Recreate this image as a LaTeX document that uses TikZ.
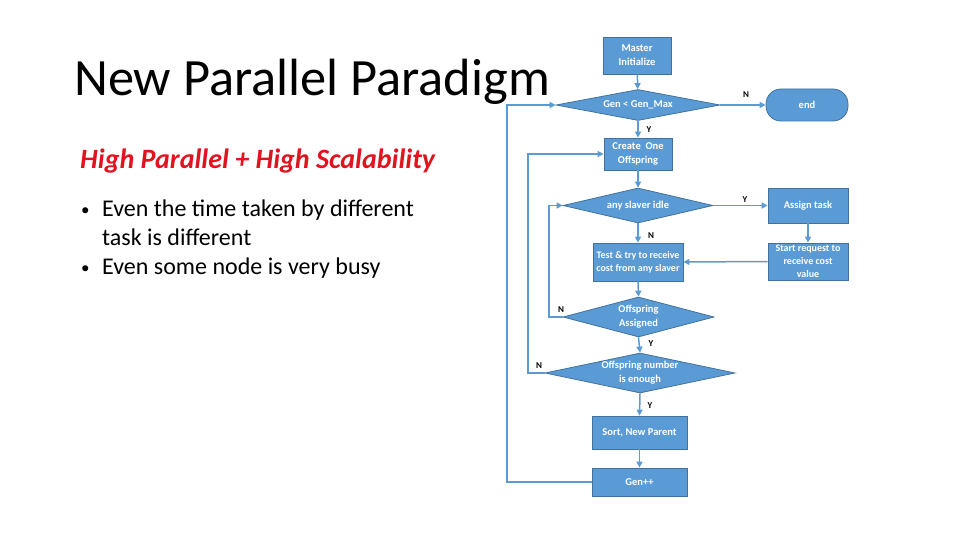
\documentclass[tikz,border=0pt]{standalone}
\usepackage{fontspec}
\setmainfont{Carlito}
\usetikzlibrary{shapes.geometric,arrows.meta}
\definecolor{fc}{HTML}{5B9BD5}
\definecolor{bc}{HTML}{41719C}
\definecolor{lc}{HTML}{5B9BD5}
\definecolor{redt}{HTML}{E0141E}
\tikzset{
  box/.style={rectangle,fill=fc,draw=bc,line width=0.8pt,text=white,align=center,inner sep=0pt,font=\fontsize{10.5}{14}\selectfont\bfseries},
  dia/.style={diamond,fill=fc,draw=bc,line width=0.8pt,inner sep=0pt},
  dtext/.style={text=white,align=center,font=\fontsize{10.5}{14}\selectfont\bfseries},
  lab/.style={font=\fontsize{9}{10}\selectfont\bfseries,text=black,inner sep=0pt},
  conn/.style={draw=lc,line width=1.5pt,-{Triangle[length=6pt,width=6pt]}},
  body/.style={anchor=base west,inner sep=0pt,font=\fontsize{24}{29}\selectfont},
}
\begin{document}
\begin{tikzpicture}[x=1pt,y=-1pt]
\useasboundingbox (0,0) rectangle (960,540);
% left text
\node[anchor=base west,inner sep=0pt,font=\fontsize{52.4}{60}\selectfont] (title) at (74,96) {New Parallel Paradigm};
\node[anchor=base west,inner sep=0pt,text=redt,font=\fontsize{28}{32}\selectfont\bfseries\itshape] (sub) at (80,168) {High Parallel + High Scalability};
\node[body,font=\fontsize{17}{25}\selectfont] (b1) at (81,215) {•};
\node[body] (t1) at (102,216) {Even the time taken by different};
\node[body] (t2) at (102,245) {task is different};
\node[body,font=\fontsize{17}{25}\selectfont] (b2) at (81,273) {•};
\node[body] (t3) at (102,274) {Even some node is very busy};
% flowchart
\node[box,minimum width=68,minimum height=37] (mi) at (637,55.5) {Master\\Initialize};
\node[dia,minimum width=164,minimum height=31] (gen) at (638,105) {};
\node[dtext] at (gen) {Gen < Gen\_Max};
\node[box,rounded corners=15pt,minimum width=82,minimum height=32] (end) at (807,105) {end};
\node[box,minimum width=68,minimum height=32] (cre) at (638,154) {Create~ One\\Offspring};
\node[dia,minimum width=150,minimum height=35] (idle) at (638,205.5) {};
\node[dtext] at (idle) {any slaver idle};
\node[box,minimum width=80,minimum height=35] (asg) at (808,205.5) {Assign task};
\node[box,minimum width=90,minimum height=38,font=\fontsize{10}{13}\selectfont\bfseries] (test) at (638,262) {Test \& try to receive\\cost from any slaver};
\node[box,minimum width=80,minimum height=37,font=\fontsize{10}{13}\selectfont\bfseries] (req) at (808,261.5) {Start request to\\receive cost\\value};
\node[dia,minimum width=151,minimum height=40] (oa) at (638.5,317) {};
\node[dtext] at (oa) {Offspring\\Assigned};
\node[dia,minimum width=190,minimum height=40] (on) at (640,373) {};
\node[dtext] at (on) {Offspring number\\is enough};
\node[box,minimum width=95,minimum height=33] (sort) at (639.5,432.5) {Sort, New Parent};
\node[box,minimum width=95,minimum height=28] (gpp) at (639.5,482) {Gen++};
% connectors
\draw[conn] (mi) -- (gen);
\draw[conn] (gen.east) -- (end.west);
\draw[conn] (gen.south) -- (cre.north);
\draw[conn] (cre) -- (idle);
\draw[conn] (idle.east) -- (asg.west);
\draw[conn] (idle.south) -- (test.north);
\draw[conn] (asg) -- (req);
\draw[conn] (req.west) -- (test.east);
\draw[conn] (test.south) -- (oa.north);
\draw[conn] (oa.south) -- (on.north);
\draw[conn] (on.south) -- (sort.north);
\draw[conn] (sort) -- (gpp);
\coordinate (c1) at (549,317);
\coordinate (c2) at (549,205.5);
\draw[conn] (oa.west) -- (c1) -- (c2) -- (idle.west);
\coordinate (c3) at (528,373);
\coordinate (c4) at (528,154);
\draw[conn] (on.west) -- (c3) -- (c4) -- (cre.west);
\coordinate (c5) at (507,482);
\coordinate (c6) at (507,105);
\draw[conn] (gpp.west) -- (c5) -- (c6) -- (gen.west);
% labels
\node[lab] (ln1) at (746,95) {N};
\node[lab] (ly1) at (649,130) {Y};
\node[lab] (ly2) at (745,200) {Y};
\node[lab] (ln2) at (651,236) {N};
\node[lab] (ln3) at (561,310) {N};
\node[lab] (ly3) at (651,344) {Y};
\node[lab] (ln4) at (539,366) {N};
\node[lab] (ly4) at (650,406) {Y};
\end{tikzpicture}
\end{document}
